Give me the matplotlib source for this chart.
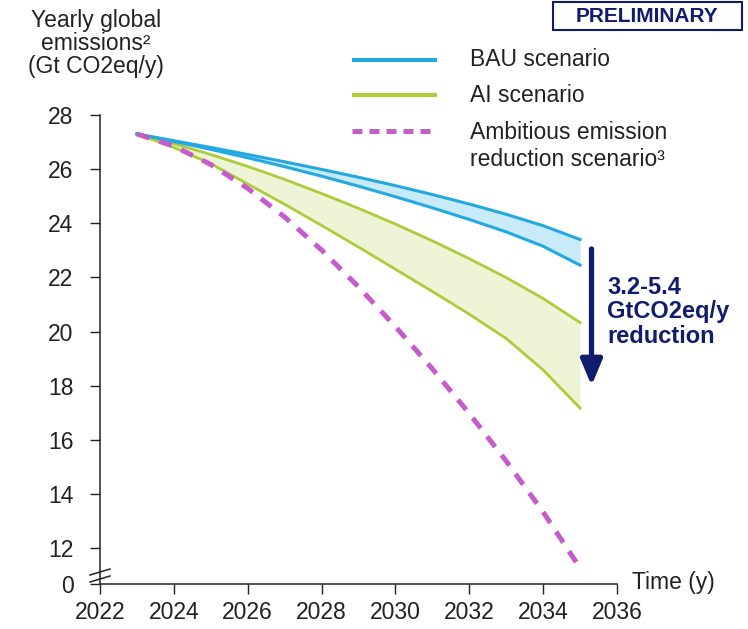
import matplotlib.pyplot as plt
from matplotlib.lines import Line2D
from matplotlib.patches import Rectangle

plt.rcParams['font.family'] = ['Liberation Sans', 'DejaVu Sans']

# ---------------- data ----------------
years = [2023, 2024, 2025, 2026, 2027, 2028, 2029, 2030, 2031, 2032, 2033, 2034, 2035]
bau_high = [27.3, 27.05, 26.8, 26.54, 26.27, 25.99, 25.7, 25.39, 25.06, 24.71, 24.33, 23.91, 23.4]
bau_low = [27.3, 27.02, 26.73, 26.42, 26.09, 25.74, 25.37, 24.98, 24.57, 24.14, 23.68, 23.15, 22.45]
ai_high = [27.3, 26.94, 26.54, 26.1, 25.62, 25.1, 24.55, 23.97, 23.35, 22.69, 21.99, 21.22, 20.33]
ai_low = [27.3, 26.8, 26.2, 25.45, 24.7, 23.92, 23.12, 22.3, 21.48, 20.64, 19.74, 18.58, 17.17]
ambitious = [27.3, 26.85, 26.17, 25.29, 24.23, 23.01, 21.65, 20.18, 18.62, 16.97, 15.21, 13.33, 11.26]

x_ticks = [2022, 2024, 2026, 2028, 2030, 2032, 2034, 2036]
y_ticks = [12, 14, 16, 18, 20, 22, 24, 26, 28]
y_floor = 10.67   # bottom of the broken axis, labelled 0
arrow_x = 2035.31
arrow_from, arrow_to = 23.05, 18.0

# ---------------- colours ----------------
c_bau = '#22A9E1'
c_bau_fill = '#C9EAF8'
c_ai = '#AECB3B'
c_ai_fill = '#EEF4D6'
c_amb = '#C55CCB'
navy = '#121C6C'
ink = '#222222'

W, H = 748, 629
def fx(px):
    return px / W
def fy(py):
    return 1 - py / H

fig = plt.figure(figsize=(7.48, 6.29), dpi=100)
ax = fig.add_axes([fx(100), fy(584), 517 / W, 469 / H])

ax.fill_between(years, ai_low, ai_high, color=c_ai_fill, lw=0, zorder=1)
ax.fill_between(years, bau_low, bau_high, color=c_bau_fill, lw=0, zorder=1)
ax.plot(years, ai_high, color=c_ai, lw=2.0, zorder=2)
ax.plot(years, ai_low, color=c_ai, lw=2.0, zorder=2)
ax.plot(years, bau_high, color=c_bau, lw=2.2, zorder=3)
ax.plot(years, bau_low, color=c_bau, lw=2.2, zorder=3)
amb, = ax.plot(years, ambitious, color=c_amb, lw=3.6, zorder=4, solid_capstyle='butt')
amb.set_dashes([2.6, 2.1])

ax.set_xlim(2022, 2036)
ax.set_ylim(y_floor, 28)
ax.set_xticks(x_ticks, [str(v) for v in x_ticks])
ax.set_yticks([y_floor] + y_ticks, ['0'] + [str(v) for v in y_ticks])
for s in ['top', 'right']:
    ax.spines[s].set_visible(False)
for s in ['left', 'bottom']:
    ax.spines[s].set_color(ink)
    ax.spines[s].set_linewidth(1.1)
ax.tick_params(axis='y', length=7, width=1.0, pad=12, labelsize=16.5, colors=ink)
ax.tick_params(axis='x', length=7, width=1.0, pad=5, labelsize=16.5, colors=ink)

# arrow and its label
ax.annotate('', xy=(arrow_x, arrow_to), xytext=(arrow_x, arrow_from),
            arrowprops=dict(arrowstyle='-|>,head_length=0.62,head_width=0.26',
                            lw=3.8, color=navy, mutation_scale=25,
                            shrinkA=0, shrinkB=0))
fig.text(fx(607), fy(312), '3.2-5.4\nGtCO2eq/y\nreduction', ha='left', va='center',
         fontsize=17, fontweight='bold', color=navy, linespacing=1.1)

# axis break marks
for yb in (572, 579):
    fig.add_artist(Line2D([fx(90), fx(110)], [fy(yb + 3), fy(yb - 3)],
                          transform=fig.transFigure, color=ink, lw=1.1))

# titles
fig.text(fx(96), fy(44), 'Yearly global\nemissions\u00b2\n(Gt CO2eq/y)', ha='center',
         va='center', fontsize=16.5, color=ink, linespacing=1.0)
fig.text(fx(632), fy(583), 'Time (y)', ha='left', va='center', fontsize=16.5, color=ink)

# PRELIMINARY box
fig.add_artist(Rectangle((fx(553), fy(30)), 189 / W, 28 / H, transform=fig.transFigure,
                         fill=False, ec=navy, lw=1.5))
fig.text(fx(647), fy(16), 'PRELIMINARY', ha='center', va='center', fontsize=15,
         fontweight='bold', color=navy)

# legend
bau_key = Line2D([fx(352), fx(437)], [fy(60)] * 2, transform=fig.transFigure,
                 color=c_bau, lw=3.0, solid_capstyle='butt')
ai_key = Line2D([fx(352), fx(437)], [fy(95)] * 2, transform=fig.transFigure,
                color=c_ai, lw=3.0, solid_capstyle='butt')
amb_key = Line2D([fx(352), fx(437)], [fy(131)] * 2, transform=fig.transFigure,
                 color=c_amb, lw=3.6, solid_capstyle='butt')
amb_key.set_dashes([2.0, 1.4])
for k in (bau_key, ai_key, amb_key):
    fig.add_artist(k)
fig.text(fx(470), fy(60), 'BAU scenario', ha='left', va='center', fontsize=16.5, color=ink)
fig.text(fx(470), fy(95), 'AI scenario', ha='left', va='center', fontsize=16.5, color=ink)
fig.text(fx(470), fy(146), 'Ambitious emission\nreduction scenario\u00b3', ha='left',
         va='center', fontsize=16.5, color=ink, linespacing=1.25)

fig.savefig('out.png', dpi=100)
